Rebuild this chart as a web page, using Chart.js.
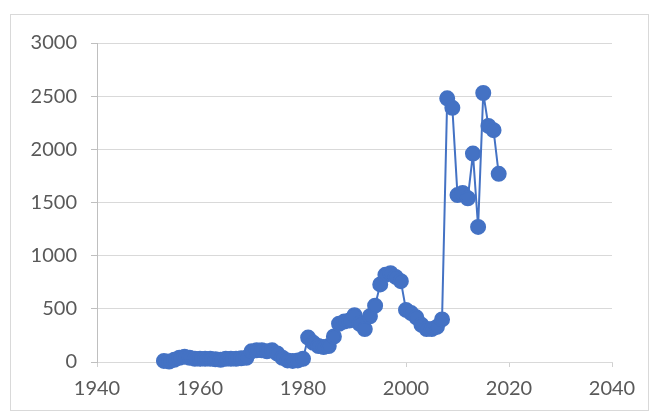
<!DOCTYPE html>
<html>
<head>
<meta charset="utf-8">
<script src="https://cdn.jsdelivr.net/npm/chart.js@4"></script>
<style>
  html, body { margin: 0; padding: 0; background: #fff; }
  #wrap { position: relative; width: 653px; height: 417px; }
  #frame { position: absolute; left: 10px; top: 14px; width: 637px; height: 395px; border: 1px solid #d9d9d9; }
  canvas { position: absolute; left: 0; top: 0; }
</style>
</head>
<body>
<div id="wrap">
  <div id="frame"></div>
  <canvas id="chart" width="653" height="417"></canvas>
</div>
<script>
// Years and values
const years = [
    1953, 1954, 1955, 1956, 1957, 1958, 1959, 1960, 1961, 1962,
    1963, 1964, 1965, 1966, 1967, 1968, 1969, 1970, 1971, 1972,
    1973, 1974, 1975, 1976, 1977, 1978, 1979, 1980, 1981, 1982,
    1983, 1984, 1985, 1986, 1987, 1988, 1989, 1990, 1991, 1992,
    1993, 1994, 1995, 1996, 1997, 1998, 1999, 2000, 2001, 2002,
    2003, 2004, 2005, 2006, 2007, 2008, 2009, 2010, 2011, 2012,
    2013, 2014, 2015, 2016, 2017, 2018,
];
const values = [
    10, 5, 20, 40, 50, 40, 30, 30, 30, 30,
    25, 20, 30, 30, 30, 35, 40, 100, 110, 110,
    100, 110, 80, 40, 15, 10, 15, 30, 230, 180,
    150, 140, 150, 240, 360, 380, 390, 440, 360, 310,
    430, 530, 730, 820, 835, 800, 760, 490, 460, 420,
    350, 310, 310, 330, 400, 2480, 2390, 1570, 1590, 1540,
    1960, 1270, 2530, 2220, 2180, 1770,
];

const xTicks = [1940, 1960, 1980, 2000, 2020, 2040];
const yTicks = [0, 500, 1000, 1500, 2000, 2500, 3000];

const points = years.map((yr, i) => ({ x: yr, y: values[i] }));

const ctx = document.getElementById("chart").getContext("2d");
new Chart(ctx, {
    type: "scatter",
    data: {
        datasets: [
            {
                data: points,
                showLine: true,
                borderColor: "#4472C4",
                borderWidth: 2,
                backgroundColor: "#4472C4",
                pointBackgroundColor: "#4472C4",
                pointBorderColor: "#4472C4",
                pointRadius: 7,
                pointHoverRadius: 7,
                clip: false,
            },
        ],
    },
    options: {
        responsive: false,
        animation: false,
        layout: { padding: { left: 0, top: 43, right: 41, bottom: 0 } },
        plugins: {
            legend: { display: false },
            tooltip: { enabled: false },
        },
        scales: {
            x: {
                type: "linear",
                min: xTicks[0],
                max: xTicks[xTicks.length - 1],
                afterBuildTicks: (axis) => {
                    axis.ticks = xTicks.map((v) => ({ value: v }));
                },
                afterFit: (axis) => { axis.height = 55; },
                ticks: {
                    color: "#595959",
                    font: { family: "Lato", size: 20 },
                    padding: 10,
                    maxRotation: 0,
                    callback: (v) => String(v),
                },
                grid: {
                    drawOnChartArea: false,
                    drawTicks: true,
                    tickLength: 5,
                    color: "#d0d0d0",
                },
                border: { color: "#d9d9d9", width: 1 },
            },
            y: {
                min: yTicks[0],
                max: yTicks[yTicks.length - 1],
                afterBuildTicks: (axis) => {
                    axis.ticks = yTicks.map((v) => ({ value: v }));
                },
                afterFit: (axis) => { axis.width = 97; },
                ticks: {
                    color: "#595959",
                    font: { family: "Lato", size: 20 },
                    padding: 14,
                    callback: (v) => String(v),
                },
                grid: {
                    color: "#d9d9d9",
                    tickLength: 6,
                    tickColor: "#bfbfbf",
                },
                border: { color: "#bfbfbf", width: 1 },
            },
        },
    },
});
</script>
</body>
</html>
